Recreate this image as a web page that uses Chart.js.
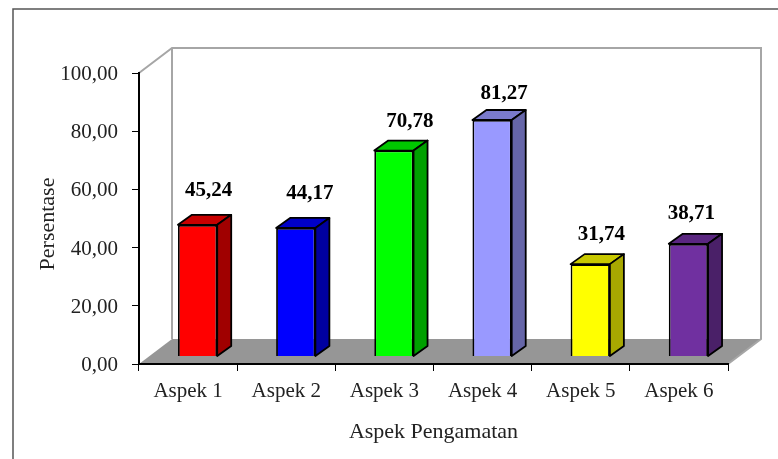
<!DOCTYPE html>
<html>
<head>
<meta charset="utf-8">
<style>
  html, body { margin: 0; padding: 0; background: #fff; }
  #wrap { width: 778px; height: 459px; }
</style>
<script src="https://cdn.jsdelivr.net/npm/chart.js@4"></script>
</head>
<body>
<div id="wrap"><canvas id="myChart" width="778" height="459"></canvas></div>
<script>
const categories = ['Aspek 1', 'Aspek 2', 'Aspek 3', 'Aspek 4', 'Aspek 5', 'Aspek 6']
const persentase = [45.24, 44.17, 70.78, 81.27, 31.74, 38.71]
const yTicks = [0, 20, 40, 60, 80, 100]

const frontColors = ['#ff0000', '#0000ff', '#00ff00', '#9999ff', '#ffff00', '#7030a0']
const sideColors = ['#a00000', '#0000a0', '#00a000', '#6666a8', '#a8a800', '#4a2068']
const topColors = ['#c80000', '#0000c8', '#00c800', '#7a7acc', '#c8c800', '#5a2680']
// the labels were placed by hand in the original
const labelNudgeX = [11, 14, 16, 12, 11, 3]
const labelNudgeY = [-34.5, -34, -29, -26, -30, -30]

const fmt = (v) => v.toFixed(2).replace('.', ',')
const serif = '"Liberation Serif", "Times New Roman", serif'

const depth = { x: 33, y: 25 } // wall/floor depth
const barShift = { x: 9.5, y: -7.5 } // bars stand in the middle of the floor
const barDepth = { x: 14, y: 10 }

const box3d = {
  id: 'box3d',
  beforeDraw(chart) {
    const c = chart.ctx
    const { left, right, top, bottom } = chart.chartArea
    c.save()
    // frame round the picture
    c.strokeStyle = '#555'
    c.lineWidth = 1.5
    c.beginPath()
    c.moveTo(13, 459)
    c.lineTo(13, 9)
    c.lineTo(778, 9)
    c.stroke()
    // floor
    c.fillStyle = '#969696'
    c.beginPath()
    c.moveTo(left, bottom)
    c.lineTo(right, bottom)
    c.lineTo(right + depth.x, bottom - depth.y)
    c.lineTo(left + depth.x, bottom - depth.y)
    c.closePath()
    c.fill()
    // back walls
    c.strokeStyle = '#a6a6a6'
    c.lineWidth = 2
    c.beginPath()
    c.moveTo(left, top)
    c.lineTo(left + depth.x, top - depth.y)
    c.lineTo(right + depth.x, top - depth.y)
    c.lineTo(right + depth.x, bottom - depth.y)
    c.lineTo(right, bottom)
    c.moveTo(left + depth.x, top - depth.y)
    c.lineTo(left + depth.x, bottom - depth.y)
    c.stroke()
    c.restore()
  },
  beforeDatasetDraw(chart) {
    const c = chart.ctx
    c.save()
    c.translate(barShift.x, barShift.y)
    c.lineWidth = 1.8
    c.strokeStyle = '#000'
    c.lineJoin = 'round'
    chart.getDatasetMeta(0).data.forEach((bar, i) => {
      const l = bar.x - bar.width / 2
      const r = bar.x + bar.width / 2
      c.fillStyle = topColors[i]
      c.beginPath()
      c.moveTo(l, bar.y)
      c.lineTo(l + barDepth.x, bar.y - barDepth.y)
      c.lineTo(r + barDepth.x, bar.y - barDepth.y)
      c.lineTo(r, bar.y)
      c.closePath()
      c.fill()
      c.stroke()
      c.fillStyle = sideColors[i]
      c.beginPath()
      c.moveTo(r, bar.y)
      c.lineTo(r + barDepth.x, bar.y - barDepth.y)
      c.lineTo(r + barDepth.x, bar.base - barDepth.y)
      c.lineTo(r, bar.base)
      c.closePath()
      c.fill()
      c.stroke()
    })
  },
  afterDatasetDraw(chart) {
    chart.ctx.restore()
  },
  afterDraw(chart) {
    const c = chart.ctx
    c.save()
    c.fillStyle = '#000'
    c.textAlign = 'center'
    c.textBaseline = 'middle'
    c.font = 'bold 21px ' + serif
    chart.getDatasetMeta(0).data.forEach((bar, i) => {
      c.fillText(fmt(persentase[i]), bar.x + barShift.x + labelNudgeX[i], bar.y + barShift.y + labelNudgeY[i])
    })
    c.fillStyle = '#222'
    c.font = '22px ' + serif
    c.translate(48, 224)
    c.rotate(-Math.PI / 2)
    c.fillText('Persentase', 0, 0)
    c.restore()
  },
}

const ctx = document.getElementById('myChart').getContext('2d')
new Chart(ctx, {
  type: 'bar',
  data: {
    labels: categories,
    datasets: [
      {
        label: 'Persentase',
        data: persentase,
        backgroundColor: frontColors,
        borderColor: '#000',
        borderWidth: 1.8,
        barPercentage: 0.4,
        categoryPercentage: 1,
      },
    ],
  },
  options: {
    responsive: false,
    animation: false,
    layout: { padding: { left: 0, right: 50, top: 73, bottom: 0 } },
    plugins: { legend: { display: false }, tooltip: { enabled: false } },
    scales: {
      x: {
        afterFit(scale) {
          scale.height = 95
        },
        grid: { drawOnChartArea: false, color: '#000', tickLength: 7, offset: true },
        border: { color: '#000', width: 2 },
        ticks: { color: '#222', padding: 8, maxRotation: 0, font: { family: serif, size: 21 } },
        title: {
          display: true,
          text: 'Aspek Pengamatan',
          color: '#222',
          padding: { top: 0, bottom: 14 },
          font: { family: serif, size: 22 },
        },
      },
      y: {
        min: 0,
        max: 100,
        afterBuildTicks(scale) {
          scale.ticks = yTicks.map((v) => ({ value: v }))
        },
        afterFit(scale) {
          scale.width = 139
        },
        grid: { drawOnChartArea: false, color: '#000', tickLength: 7 },
        border: { color: '#000', width: 2 },
        ticks: {
          color: '#222',
          padding: 14,
          labelOffset: 1.5,
          font: { family: serif, size: 21 },
          callback: (v) => fmt(v),
        },
      },
    },
  },
  plugins: [box3d],
})
</script>
</body>
</html>
